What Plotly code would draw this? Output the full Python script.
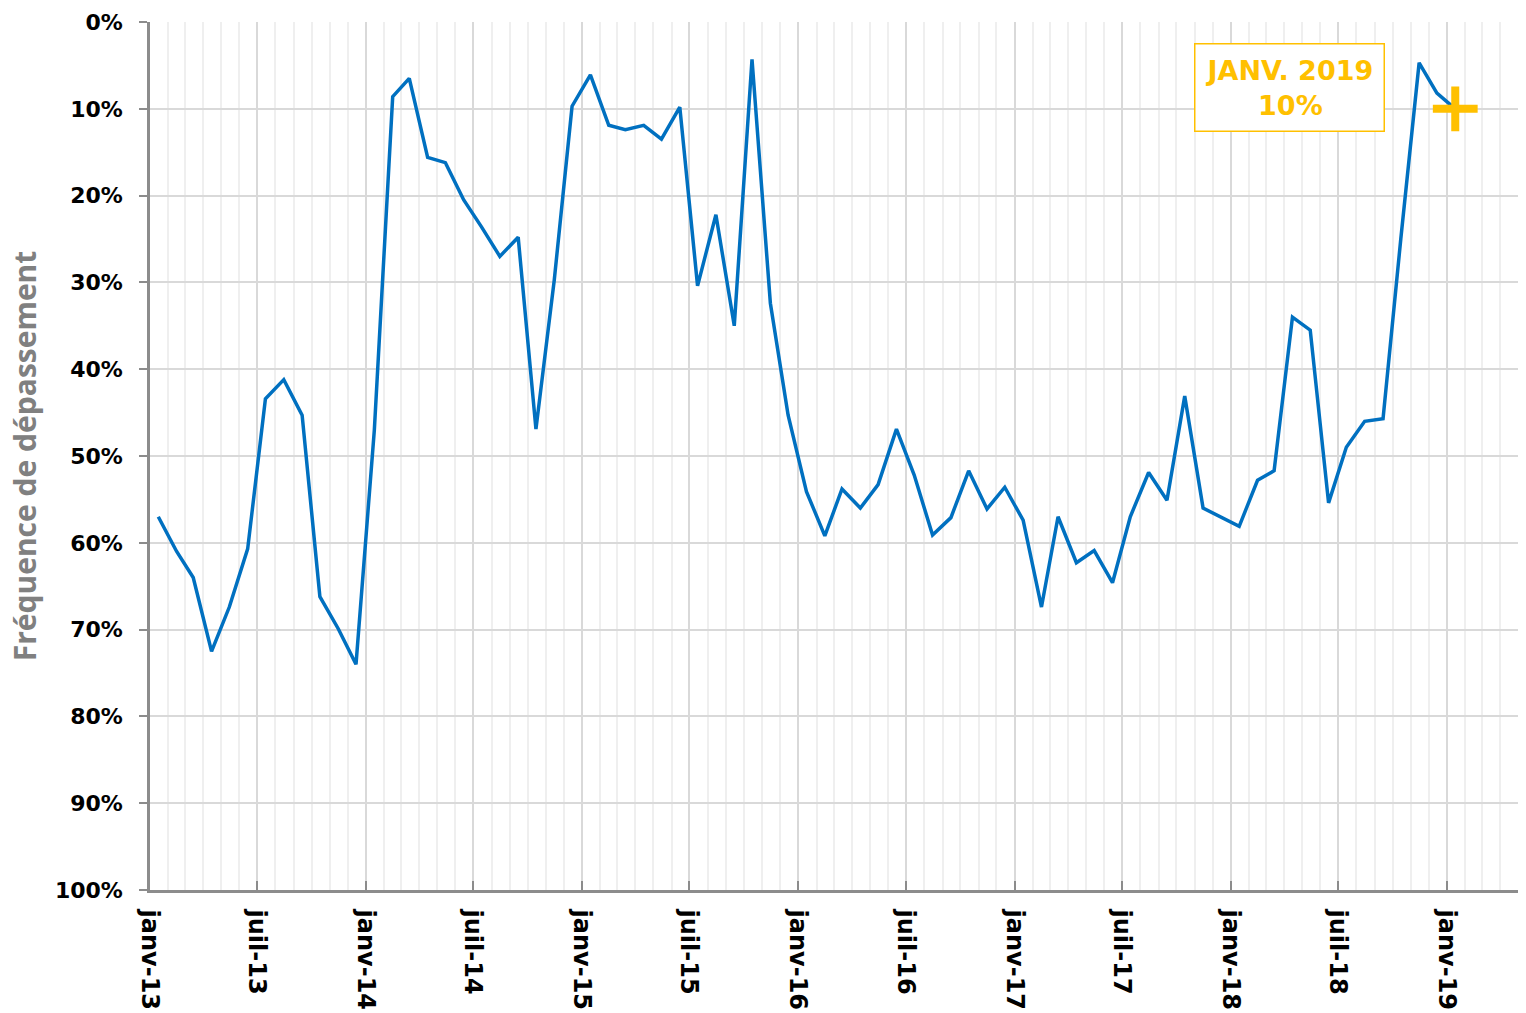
import plotly.graph_objects as go
import pandas as pd

# Monthly values (frequency of exceedance, %), janv-13 .. janv-19
months = pd.date_range("2013-01-01", periods=73, freq="MS") + pd.Timedelta(days=14)
frequence = [
    57.0, 61.0, 64.0, 72.5, 67.4, 60.7,          # 2013 H1
    43.4, 41.2, 45.3, 66.2, 69.9, 74.0,          # 2013 H2
    47.0, 8.6, 6.5, 15.6, 16.2, 20.5,            # 2014 H1
    23.6, 27.0, 24.8, 46.9, 29.7, 9.7,           # 2014 H2
    6.1, 11.9, 12.4, 11.9, 13.5, 9.8,            # 2015 H1
    30.4, 22.2, 35.0, 4.3, 32.4, 45.3,           # 2015 H2
    54.1, 59.2, 53.8, 56.0, 53.3, 46.9,          # 2016 H1
    52.2, 59.1, 57.1, 51.7, 56.1, 53.6,          # 2016 H2
    57.4, 67.4, 57.0, 62.3, 60.9, 64.6,          # 2017 H1
    57.0, 51.9, 55.1, 43.1, 56.0, 57.0,          # 2017 H2
    58.1, 52.8, 51.7, 34.0, 35.5, 55.4,          # 2018 H1
    49.0, 46.0, 45.7, 25.0, 4.7, 8.2,            # 2018 H2
    10.0,                                        # janv-19
]

tick_vals = ["2013-01-01", "2013-07-01", "2014-01-01", "2014-07-01", "2015-01-01",
             "2015-07-01", "2016-01-01", "2016-07-01", "2017-01-01", "2017-07-01",
             "2018-01-01", "2018-07-01", "2019-01-01"]
tick_text = ["janv-13", "juil-13", "janv-14", "juil-14", "janv-15", "juil-15",
             "janv-16", "juil-16", "janv-17", "juil-17", "janv-18", "juil-18", "janv-19"]

highlight_label = "JANV. 2019<br>10%"
highlight_date = months[-1]
highlight_value = frequence[-1]

FONT = "DejaVu Sans"
GOLD = "#FFC000"

fig = go.Figure()
fig.add_trace(go.Scatter(
    x=months, y=frequence, mode="lines",
    line=dict(color="#0070C0", width=3.5),
    hoverinfo="skip", showlegend=False,
))
fig.add_trace(go.Scatter(
    x=[highlight_date], y=[highlight_value], mode="markers",
    marker=dict(symbol="cross-thin", size=32, color=GOLD,
                line=dict(color=GOLD, width=8)),
    hoverinfo="skip", showlegend=False,
))

fig.add_annotation(
    x=0.833, xref="paper", xanchor="center", y=7.6, yref="y", yanchor="middle",
    text=highlight_label, showarrow=False,
    font=dict(family=FONT, size=27, color=GOLD, weight="bold"),
    bordercolor=GOLD, borderwidth=1.5, borderpad=10,
    bgcolor="white", align="center",
)

fig.update_layout(
    width=1526, height=1013,
    margin=dict(l=150, r=8, t=22, b=123),
    plot_bgcolor="white", paper_bgcolor="white",
    font=dict(family=FONT, color="#000000"),
    xaxis=dict(
        type="date",
        range=["2013-01-01", "2019-05-01"],
        tickmode="array", tickvals=tick_vals, ticktext=tick_text,
        tickangle=90,
        tickfont=dict(family=FONT, size=24, color="#000000", weight="bold"),
        ticklabelstandoff=12,
        automargin=False,
        showgrid=True, gridcolor="#d9d9d9", gridwidth=2,
        minor=dict(dtick="M1", tick0="2013-01-01", showgrid=True,
                   gridcolor="#efefef", gridwidth=1.5),
        showline=True, linecolor="#8c8c8c", linewidth=2.5,
        ticks="inside", ticklen=9, tickcolor="#8c8c8c", tickwidth=2,
        zeroline=False,
    ),
    yaxis=dict(
        range=[100, 0],
        tickmode="linear", tick0=0, dtick=10, ticksuffix="%",
        tickfont=dict(family=FONT, size=22, color="#000000", weight="bold"),
        ticklabelstandoff=12,
        automargin=False,
        showgrid=True, gridcolor="#d9d9d9", gridwidth=2,
        showline=True, linecolor="#8c8c8c", linewidth=2.5,
        ticks="outside", ticklen=8, tickcolor="#8c8c8c", tickwidth=2,
        zeroline=False,
        title=dict(text="Fréquence de dépassement", standoff=10,
                   font=dict(family="Open Sans", size=30, color="#808080", weight="bold")),
    ),
)

fig.write_html("out.html")
